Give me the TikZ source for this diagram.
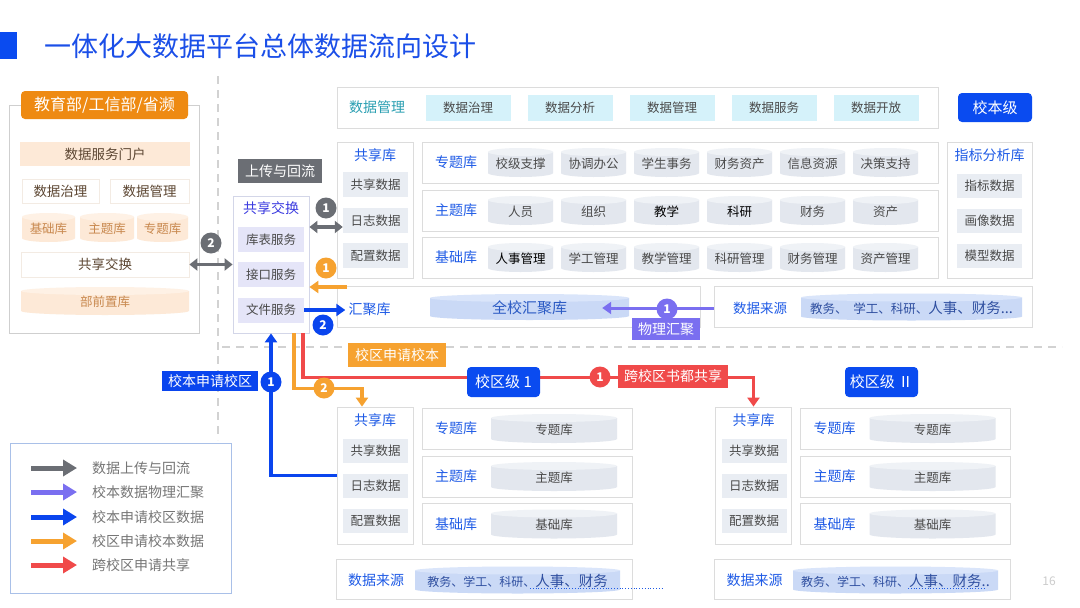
\documentclass[tikz,border=0pt]{standalone}
\usepackage{fontspec}
\setmainfont{Noto Sans CJK SC}
\usetikzlibrary{arrows.meta}

\definecolor{titleblue}{HTML}{1B4FE8}
\definecolor{brandblue}{HTML}{0A4BF0}
\definecolor{labelblue}{HTML}{1F5BE6}
\definecolor{linegray}{HTML}{DCDCDC}
\definecolor{provgray}{HTML}{CFCFCF}
\definecolor{txtgray}{HTML}{4A4A4A}
\definecolor{itemgray}{HTML}{E9EDF3}
\definecolor{cylbody}{HTML}{E3E7EE}
\definecolor{cyltop}{HTML}{EFF2F6}
\definecolor{lavender}{HTML}{E5E5F8}
\definecolor{swapline}{HTML}{D3D6E8}
\definecolor{violettxt}{HTML}{3B3BE0}
\definecolor{tealtxt}{HTML}{2A9FB2}
\definecolor{cyanfill}{HTML}{D5F2FA}
\definecolor{orghead}{HTML}{EE8A12}
\definecolor{orgfill}{HTML}{FDE9D7}
\definecolor{orgtop}{HTML}{FEF1E5}
\definecolor{orgline}{HTML}{F3EBE3}
\definecolor{orgtxt}{HTML}{C8884E}
\definecolor{browntxt}{HTML}{5C4632}
\definecolor{flowgray}{HTML}{6B6E74}
\definecolor{flowpurple}{HTML}{7A6FF0}
\definecolor{flowblue}{HTML}{0A45EE}
\definecolor{floworange}{HTML}{F6A230}
\definecolor{flowred}{HTML}{F04A4A}
\definecolor{poolbody}{HTML}{CAD9F6}
\definecolor{pooltop}{HTML}{DAE5FA}
\definecolor{pooltxt}{HTML}{2C5BC4}
\definecolor{srctxt}{HTML}{2F4FA0}
\definecolor{sepgray}{HTML}{D2D2D2}
\definecolor{legendline}{HTML}{A9C0E8}
\definecolor{legendtxt}{HTML}{767676}
\definecolor{pagegray}{HTML}{CCCCCC}

\newcommand{\fsz}[1]{\fontsize{#1pt}{#1pt}\selectfont}

% cylinder: [node style]{name}{x}{y}{width}{height}{body}{top}{text}
\newcommand{\dbcyl}[9][]{%
  \fill[#7] ({#3-#5/2},{#4-#6/2+4}) -- ({#3-#5/2},{#4+#6/2-4})
    arc[start angle=180, end angle=0, x radius={#5/2}, y radius=4]
    -- ({#3+#5/2},{#4-#6/2+4}) -- cycle;
  \fill[#8] (#3,{#4-#6/2+4}) ellipse[x radius={#5/2}, y radius=4];
  \node[cyltext, minimum width=#5, #1] (#2) at (#3,{#4+1}) {#9};
}

\tikzset{
  frame/.style={draw=linegray, line width=0.8pt, fill=white, inner sep=0pt},
  item/.style={fill=itemgray, inner sep=0pt, minimum width=65pt, minimum height=25pt,
    text=txtgray, font=\fsz{12.5}},
  cyltext/.style={inner sep=0pt, text=txtgray, font=\fsz{12.5}},
  grouplabel/.style={inner sep=0pt, text=labelblue, font=\fsz{14}},
  provtxt/.style={inner sep=0pt, text=browntxt, font=\fsz{13.5}},
  tag/.style={inner sep=0pt, text=white, font=\fsz{14}},
  badge/.style={circle, fill=#1, text=white, inner sep=0pt, minimum size=21pt,
    font=\fsz{12}\bfseries},
  sepline/.style={sepgray, line width=1.6pt, dash pattern=on 8pt off 6pt},
  flow/.style={#1, line width=3.6pt, -{Triangle[length=9pt,width=12pt]}},
  dblflow/.style={#1, line width=3.6pt,
    {Triangle[length=8pt,width=12pt]}-{Triangle[length=8pt,width=12pt]}},
}

\begin{document}
\begin{tikzpicture}[x=1pt,y=-1pt]
\fill[white] (0,0) rectangle (1080,608);
\useasboundingbox (0,0) rectangle (1080,608);

% title
\fill[brandblue] (0,32) rectangle (17,59);
\node[anchor=west, inner sep=0pt, text=titleblue, font=\fsz{27}] (title) at (44,46)
  {一体化大数据平台总体数据流向设计};

% separators
\draw[sepline] (218,76) -- (218,440);
\draw[sepline] (222,347) -- (1062,347);

% ministry side
\node[frame, draw=provgray, minimum width=190pt, minimum height=228pt] (prov) at (104,219) {};
\node[tag, fill=orghead, rounded corners=4pt, minimum width=167pt, minimum height=28pt,
  font=\fsz{16}] (provhead) at (104.5,105) {教育部/工信部/省濒};
\node[provtxt, fill=orgfill, minimum width=170pt, minimum height=24pt] (portal) at (105,154) {数据服务门户};
\node[provtxt, frame, draw=orgline, minimum width=77pt, minimum height=24pt] (pgov) at (60.5,191) {数据治理};
\node[provtxt, frame, draw=orgline, minimum width=79pt, minimum height=24pt] (pmgr) at (149.5,191) {数据管理};
\dbcyl[text=orgtxt]{pbase}{48.5}{227.5}{53}{29}{orgfill}{orgtop}{基础库};
\dbcyl[text=orgtxt]{ptheme}{107}{227.5}{54}{29}{orgfill}{orgtop}{主题库};
\dbcyl[text=orgtxt]{ptopic}{162.5}{227.5}{51}{29}{orgfill}{orgtop}{专题库};
\node[provtxt, frame, draw=orgline, minimum width=168pt, minimum height=25pt] (pswap) at (105,264.5) {共享交换};
\dbcyl[text=orgtxt]{pfront}{105}{301}{168}{28}{orgfill}{orgtop}{部前置库};

% exchange column
\node[tag, fill=flowgray, minimum width=84pt, minimum height=24pt] (upload) at (280,171) {上传与回流};
\node[frame, draw=swapline, minimum width=76pt, minimum height=137pt] (swap) at (271,264.5) {};
\node[grouplabel, text=violettxt] (swaptitle) at (271,208) {共享交换};
\foreach \t/\y/\n in {库表服务/239.5/tbl, 接口服务/274.5/api, 文件服务/310/file}
  \node[item, fill=lavender, minimum width=66pt] (\n) at (271,\y) {\t};

% data management band
\node[frame, minimum width=601pt, minimum height=41pt] (mgmt) at (637.5,107.5) {};
\node[grouplabel, text=tealtxt] (mgmtlabel) at (377,107.5) {数据管理};
\foreach \t [count=\i from 0] in {数据治理,数据分析,数据管理,数据服务,数据开放}
  \node[item, fill=cyanfill, minimum width=85pt, minimum height=26pt] (mg\i) at (468+102*\i,108) {\t};
\node[tag, fill=brandblue, rounded corners=4pt, minimum width=74pt, minimum height=29pt,
  font=\fsz{15}] (campus) at (995,107.5) {校本级};

% shared library (main campus)
\node[frame, minimum width=76pt, minimum height=136pt] (sharetop) at (375,210) {};
\node[grouplabel] (sharetoptitle) at (375,155) {共享库};
\foreach \t/\y/\n in {共享数据/184.5/sdata, 日志数据/220.5/slog, 配置数据/255.5/scfg}
  \node[item] (\n) at (375.5,\y) {\t};

% library rows
\foreach \t/\y/\n in {专题库/162.5/rowzt, 主题库/210.5/rowzh, 基础库/257.5/rowjc}{
  \node[frame, minimum width=516pt, minimum height=41pt] (\n) at (680,\y) {};
  \node[grouplabel] (\n-l) at (456,\y) {\t};
}
\foreach \t [count=\i from 0] in {校级支撑,协调办公,学生事务,财务资产,信息资源,决策支持}
  \dbcyl{zt\i}{520.5+73*\i}{162.5}{65}{29}{cylbody}{cyltop}{\t};
\foreach \t [count=\i from 0] in {人员,组织,{\color{black}教学},{\color{black}科研},财务,资产}
  \dbcyl{zh\i}{520.5+73*\i}{210.5}{65}{29}{cylbody}{cyltop}{\t};
\foreach \t [count=\i from 0] in {{\color{black}人事管理},学工管理,教学管理,科研管理,财务管理,资产管理}
  \dbcyl{jc\i}{520.5+73*\i}{257.5}{65}{29}{cylbody}{cyltop}{\t};

% indicator library
\node[frame, minimum width=85pt, minimum height=136pt] (kpi) at (989.5,210) {};
\node[grouplabel] (kpititle) at (989.5,155) {指标分析库};
\foreach \t/\y/\n in {指标数据/186/kpi1, 画像数据/221/kpi2, 模型数据/256/kpi3}
  \node[item, minimum height=24pt] (\n) at (989.5,\y) {\t};

% pool and sources
\node[frame, minimum width=363pt, minimum height=41pt] (pool) at (518.5,306.5) {};
\node[grouplabel] (poollabel) at (369.5,309) {汇聚库};
\dbcyl[text=pooltxt, font=\fsz{15}]{poolcyl}{529.5}{307}{199}{26}{poolbody}{pooltop}{全校汇聚库};
\node[frame, minimum width=318pt, minimum height=41pt] (srctop) at (873,306.5) {};
\node[grouplabel, font=\fsz{13.5}] (srctoplabel) at (760,308) {数据来源};
\dbcyl[text=srctxt]{srctopcyl}{911.5}{307}{221}{27}{poolbody}{pooltop}
  {{\fsz{12.5}教务、\ \ 学工、科研、}{\fsz{14.5}人事、财务...}};

% campus blocks
\foreach \k/\dx in {1/0,2/378.5}{
\begin{scope}[xshift=\dx pt]
  \node[frame, minimum width=76pt, minimum height=137pt] (share\k) at (375,475.5) {};
  \node[grouplabel] (share\k-t) at (375,420) {共享库};
  \foreach \t/\y/\n in {共享数据/451/sd, 日志数据/486/sl, 配置数据/521/sc}
    \node[item, minimum height=24pt] (\n\k) at (375.5,\y) {\t};
  \foreach \t/\y/\n in {专题库/428.5/zt, 主题库/476.5/zh, 基础库/524/jc}{
    \node[frame, minimum width=210pt, minimum height=41pt] (\n-row\k) at (527,\y) {};
    \node[grouplabel] (\n-lab\k) at (456,\y) {\t};
    \dbcyl{\n-cyl\k}{554}{\y}{126}{29}{cylbody}{cyltop}{\t};
  }
  \node[frame, minimum width=296pt, minimum height=40pt] (src\k) at (484,579) {};
  \node[grouplabel] (src\k-t) at (376,580) {数据来源};
\end{scope}
}
\dbcyl[text=srctxt]{srccyl1}{517.5}{580}{205}{27}{poolbody}{pooltop}
  {{\fsz{12}教务、学工、科研、}{\fsz{14.5}人事、财务}};
\dbcyl[text=srctxt]{srccyl2}{895.5}{580}{205}{27}{poolbody}{pooltop}
  {{\fsz{12}教务、学工、科研、}{\fsz{14.5}人事、财务..}};
\draw[labelblue, dotted, line width=0.8pt] (530,588) -- (662,588);
\draw[labelblue, dotted, line width=0.8pt] (908,588) -- (985,588);

% flows
\coordinate (oin) at (347,287);
\draw[dblflow=flowgray] (pswap.east) -- (pswap.east -| swap.west);
\draw[dblflow=flowgray] ([yshift=-6.5pt]slog.west) -- ([yshift=-6.5pt]slog.west -| swap.east);
\draw[flow=floworange] (oin) -- (oin -| swap.east);
\draw[flow=flowblue] (file.east) -- ([xshift=-3pt]file.east -| poollabel.west);
\draw[flow=flowpurple, line width=3pt] (srctop.west |- poolcyl) -- ([xshift=-27pt]poolcyl.east);
\draw[flow=flowblue] (share1.west) -| (swap.south);
\draw[flow=flowred] ([xshift=32pt]swap.south) -- ++(0,44) -| (share2.north);
\draw[flow=floworange] ([xshift=23pt]swap.south) -- ++(0,55) -| ([xshift=-13pt]share1.north);

% badges
\node[badge=flowgray] (g2) at (211,243) {2};
\node[badge=flowgray] (g1) at (326,208) {1};
\node[badge=floworange] (o1) at (326,268) {1};
\node[badge=flowblue] (b2) at (323,325) {2};
\node[badge=flowpurple] (p1) at (667,309) {1};
\node[badge=flowred] (r1) at (600,377) {1};
\node[badge=floworange] (o2) at (324,388) {2};
\node[badge=flowblue] (b1) at (271,382) {1};

% tags
\node[tag, fill=flowpurple, minimum width=68pt, minimum height=22pt] (phys) at (666,329) {物理汇聚};
\node[tag, fill=floworange, minimum width=98pt, minimum height=24pt] (reqmain) at (397,355) {校区申请校本};
\node[tag, fill=flowred, minimum width=110pt, minimum height=23pt] (cross) at (673,376.5) {跨校区书都共享};
\node[tag, fill=flowblue, minimum width=96pt, minimum height=20pt] (reqcamp) at (210,381) {校本申请校区};
\node[tag, fill=brandblue, rounded corners=4pt, minimum width=73pt, minimum height=30pt,
  font=\fsz{15}] (camp1) at (503.5,382) {校区级 1};
\node[tag, fill=brandblue, rounded corners=4pt, minimum width=73pt, minimum height=30pt,
  font=\fsz{15}] (camp2) at (881.5,382) {校区级 Ⅱ};

% legend
\node[frame, draw=legendline, minimum width=221pt, minimum height=150pt] (legend) at (120.5,518) {};
\foreach \c/\t/\y [count=\i] in {flowgray/数据上传与回流/468, flowpurple/校本数据物理汇聚/492,
    flowblue/校本申请校区数据/517, floworange/校区申请校本数据/541, flowred/跨校区申请共享/565}{
  \coordinate (lg\i) at (31,\y);
  \draw[\c, line width=5pt, -{Triangle[length=14pt,width=16pt]}] (lg\i) -- ++(46,0);
  \node[anchor=west, inner sep=0pt, text=legendtxt, font=\fsz{14}] (lt\i) at (92,\y) {\t};
}

\node[inner sep=0pt, text=pagegray, font=\fsz{12}] (page) at (1049,581) {16};
\end{tikzpicture}
\end{document}
